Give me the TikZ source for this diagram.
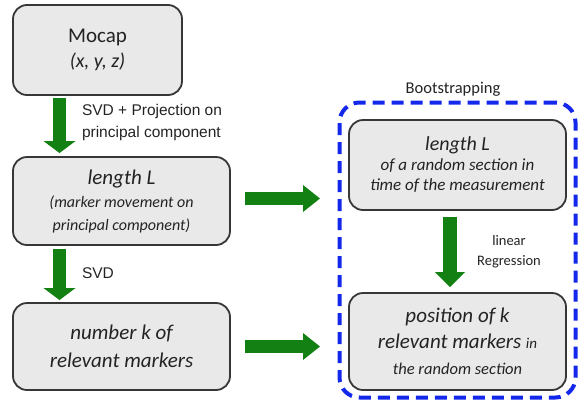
\documentclass[tikz,border=0pt]{standalone}
\usepackage{fontspec}
\setmainfont{Carlito}
\newfontfamily\arialf{Liberation Sans}
\usetikzlibrary{arrows.meta}
\definecolor{boxfill}{RGB}{233,233,233}
\definecolor{boxline}{RGB}{55,55,55}
\definecolor{arrgreen}{RGB}{18,128,18}
\definecolor{bootblue}{RGB}{20,40,235}
\definecolor{txt}{RGB}{35,35,35}
\newcommand\fs[2]{\fontsize{#1}{#2}\selectfont}
\begin{document}
\begin{tikzpicture}[x=1pt,y=-1pt,
  box/.style={draw=boxline, fill=boxfill, line width=1.8pt, rounded corners=14pt,
    inner sep=0pt, outer sep=0pt, align=center, text=txt},
  vflow/.style={draw=arrgreen, line width=13pt,
    -{Triangle[width=32pt,length=12pt,line width=0pt]}},
  hflow/.style={draw=arrgreen, line width=13pt,
    -{Triangle[width=27pt,length=17pt,line width=0pt]}},
  rflow/.style={draw=arrgreen, line width=14pt,
    -{Triangle[width=30pt,length=15pt,line width=0pt]}},
  lbl/.style={text=txt, inner sep=0pt, outer sep=0pt}
]
\useasboundingbox (0,0) rectangle (579,405);

% dashed bootstrapping frame
\node[draw=bootblue, line width=4pt, dash pattern=on 12pt off 7pt, rounded corners=20pt,
  minimum width=236pt, minimum height=295pt, inner sep=0pt, outer sep=0pt] (boot) at (457.5,250) {};
\node[lbl, anchor=base, font=\fs{16.5}{20}] (bootlbl) at (453,93) {Bootstrapping};

% left column
\node[box, minimum width=169pt, minimum height=90pt, font=\fs{21}{25}] (mocap) at (97.5,50)
  {\fs{21}{25}Mocap\\ \itshape\fs{20}{25}(x, y, z)};
\node[box, minimum width=217pt, minimum height=88pt, font=\fs{16}{23}] (lenL) at (121.5,201)
  {\itshape\fs{21}{23}length L\\ \itshape\fs{16}{23}(marker movement on\\ \itshape\fs{16}{23}principal component)};
\node[box, minimum width=217pt, minimum height=87pt, font=\fs{21}{28}] (numk) at (121.5,346.5)
  {\itshape\fs{21}{28}number k of\\ \itshape\fs{21}{28}relevant markers};

% right column
\node[box, minimum width=217pt, minimum height=90pt, font=\fs{17}{20}] (rb1) at (457.5,165)
  {\itshape\fs{20}{20}length L\\ \itshape\fs{17}{20}of a random section in\\ \itshape\fs{17}{20}time of the measurement};
\node[box, minimum width=217pt, minimum height=97pt, font=\fs{17}{26}] (rb2) at (457.5,341.5)
  {\itshape\fs{21}{26}position of k\\ \itshape\fs{21}{26}relevant markers \fs{15}{26}in\\ \itshape\fs{16.5}{26}the random section};

% arrows
\draw[vflow, shorten <=3pt, shorten >=4pt] ([xshift=46.5pt]mocap.south west) -- ([xshift=46.5pt]lenL.north west);
\draw[vflow, shorten <=4pt, shorten >=3pt] ([xshift=46.5pt]lenL.south west) -- ([xshift=46.5pt]numk.north west);
\draw[hflow, shorten <=15pt, shorten >=19.5pt] ([yshift=2.5pt]lenL.east) -- ([yshift=2.5pt]lenL.east -| boot.west);
\draw[hflow, shorten <=15pt, shorten >=19.5pt] (numk.east) -- (numk.east -| boot.west);
\draw[rflow, shorten <=7pt, shorten >=6pt] ([xshift=101pt]rb1.south west) -- ([xshift=101pt]rb2.north west);

% labels
\node[lbl, anchor=base west, align=left, font=\arialf\fs{15.5}{22}] (l1) at (82,137)
  {\arialf\fs{15.5}{22}SVD + Projection on\\ \arialf\fs{15.5}{22}principal component};
\node[lbl, anchor=base west, font=\arialf\fs{15.5}{22}] (l2) at (82,278) {SVD};
\node[lbl, anchor=base, align=center, font=\fs{14.5}{20}] (l3) at (509,265) {\fs{14.5}{20}linear\\ \fs{14.5}{20}Regression};
\end{tikzpicture}
\end{document}
